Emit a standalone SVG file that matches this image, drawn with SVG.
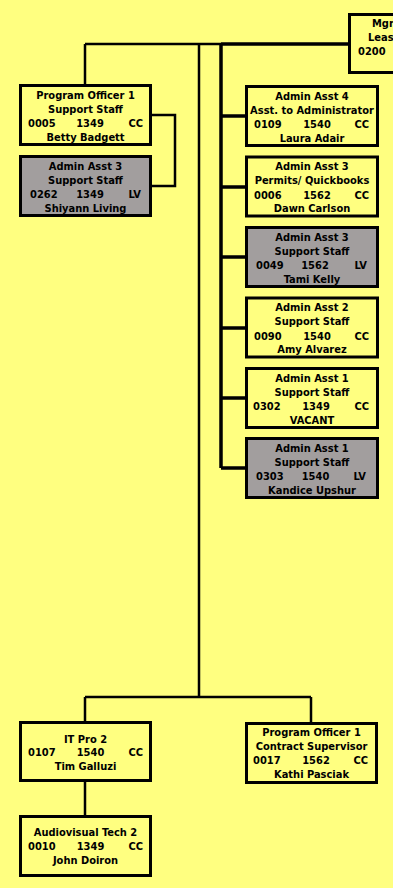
<svg xmlns="http://www.w3.org/2000/svg" width="393" height="888" viewBox="0 0 393 888">
<style>
.bg{fill:#FFFF80}
.box{fill:#FFFF80;stroke:#000;stroke-width:3}
.gray{fill:#A29E9E;stroke:#000;stroke-width:3}
.c{fill:none;stroke:#000;stroke-width:2.5}
.ct{fill:none;stroke:#000;stroke-width:3.5}
text{font-family:"DejaVu Sans Condensed","DejaVu Sans","Liberation Sans",sans-serif;font-weight:bold;font-size:11px;fill:#000}
.m{text-anchor:middle}
.e{text-anchor:end}
</style>
<rect class="bg" x="0" y="0" width="393" height="888"/>
<g id="connectors">
<path class="c" d="M85,44 H221 M85,44 V84 M199,44 V697 M85,697 H311 M85,697 V721 M311,697 V722 M85,782 V815 M151,115 H175 V186 H152"/>
<path class="ct" d="M221,44 H349 M221,44 V468 M221,116 H245 M221,187 H245 M221,257 H245 M221,328 H245 M221,398 H245 M221,468 H245"/>
</g>
<g id="mgr">
<rect class="box" x="349.5" y="14.5" width="130" height="58"/>
<text x="372" y="27">Mgr</text>
<text x="368" y="40.5">Leas</text>
<text x="358" y="55">0200</text>
</g>
<g id="po-betty">
<rect class="box" x="20.5" y="85.5" width="130" height="59"/>
<text class="m" x="85.5" y="98.5">Program Officer 1</text>
<text class="m" x="85.5" y="112.5">Support Staff</text>
<text x="28" y="126.5">0005</text><text class="m" x="90" y="126.5">1349</text><text class="e" x="143" y="126.5">CC</text>
<text class="m" x="85.5" y="140.5">Betty Badgett</text>
</g>
<g id="aa3-shiyann">
<rect class="gray" x="20.5" y="156.5" width="130" height="59"/>
<text class="m" x="85.5" y="169.5">Admin Asst 3</text>
<text class="m" x="85.5" y="183.5">Support Staff</text>
<text x="30" y="197.5">0262</text><text class="m" x="90" y="197.5">1349</text><text class="e" x="141" y="197.5">LV</text>
<text class="m" x="85.5" y="211.5">Shiyann Living</text>
</g>
<g id="aa4-laura">
<rect class="box" x="246.5" y="86.5" width="131" height="59"/>
<text class="m" x="312" y="99.5">Admin Asst 4</text>
<text class="m" x="312" y="113.5">Asst. to Administrator</text>
<text x="254" y="128">0109</text><text class="m" x="317" y="128">1540</text><text class="e" x="369" y="128">CC</text>
<text class="m" x="312" y="141.5">Laura Adair</text>
</g>
<g id="aa3-dawn">
<rect class="box" x="246.5" y="157" width="131" height="59"/>
<text class="m" x="312" y="170">Admin Asst 3</text>
<text class="m" x="312" y="184">Permits/ Quickbooks</text>
<text x="254" y="198.5">0006</text><text class="m" x="317" y="198.5">1562</text><text class="e" x="369" y="198.5">CC</text>
<text class="m" x="312" y="212">Dawn Carlson</text>
</g>
<g id="aa3-tami">
<rect class="gray" x="246.5" y="227.5" width="131" height="59"/>
<text class="m" x="312" y="240.5">Admin Asst 3</text>
<text class="m" x="312" y="254.5">Support Staff</text>
<text x="256" y="269">0049</text><text class="m" x="315" y="269">1562</text><text class="e" x="367" y="269">LV</text>
<text class="m" x="312" y="282.5">Tami Kelly</text>
</g>
<g id="aa2-amy">
<rect class="box" x="246.5" y="298" width="131" height="59"/>
<text class="m" x="312" y="311">Admin Asst 2</text>
<text class="m" x="312" y="325">Support Staff</text>
<text x="254" y="339.5">0090</text><text class="m" x="317" y="339.5">1540</text><text class="e" x="369" y="339.5">CC</text>
<text class="m" x="312" y="353">Amy Alvarez</text>
</g>
<g id="aa1-vacant">
<rect class="box" x="246.5" y="368.5" width="131" height="59"/>
<text class="m" x="312" y="381.5">Admin Asst 1</text>
<text class="m" x="312" y="395.5">Support Staff</text>
<text x="253" y="410">0302</text><text class="m" x="316" y="410">1349</text><text class="e" x="369" y="410">CC</text>
<text class="m" x="312" y="423.5">VACANT</text>
</g>
<g id="aa1-kandice">
<rect class="gray" x="246.5" y="438.5" width="131" height="59"/>
<text class="m" x="312" y="451.5">Admin Asst 1</text>
<text class="m" x="312" y="465.5">Support Staff</text>
<text x="256" y="480">0303</text><text class="m" x="315.5" y="480">1540</text><text class="e" x="366" y="480">LV</text>
<text class="m" x="312" y="493.5">Kandice Upshur</text>
</g>
<g id="itpro-tim">
<rect class="box" x="20.5" y="722.5" width="130" height="58"/>
<text class="m" x="85.5" y="742.5">IT Pro 2</text>
<text x="28" y="756">0107</text><text class="m" x="90.5" y="756">1540</text><text class="e" x="143" y="756">CC</text>
<text class="m" x="85.5" y="770">Tim Galluzi</text>
</g>
<g id="avtech-john">
<rect class="box" x="20.5" y="816.5" width="130" height="59"/>
<text class="m" x="85.5" y="836">Audiovisual Tech 2</text>
<text x="28" y="850">0010</text><text class="m" x="90.5" y="850">1349</text><text class="e" x="143" y="850">CC</text>
<text class="m" x="85.5" y="864">John Doiron</text>
</g>
<g id="po-kathi">
<rect class="box" x="246.5" y="723.5" width="130" height="59"/>
<text class="m" x="311.5" y="736">Program Officer 1</text>
<text class="m" x="311.5" y="750">Contract Supervisor</text>
<text x="253" y="764">0017</text><text class="m" x="316" y="764">1562</text><text class="e" x="368" y="764">CC</text>
<text class="m" x="311.5" y="778">Kathi Pasciak</text>
</g>
</svg>
